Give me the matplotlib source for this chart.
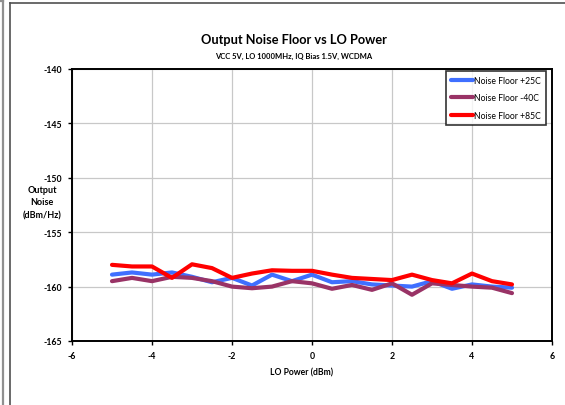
import numpy as np
from matplotlib import pyplot as plt
from matplotlib.lines import Line2D

# LO power sweep (dBm)
lo_power = [-5.0, -4.5, -4.0, -3.5, -3.0, -2.5, -2.0, -1.5, -1.0, -0.5,
            0.0, 0.5, 1.0, 1.5, 2.0, 2.5, 3.0, 3.5, 4.0, 4.5, 5.0]

# output noise floor (dBm/Hz)
nf_25c = [-158.9, -158.7, -158.9, -158.7, -159.1, -159.6, -159.2, -159.9, -158.9, -159.5,
          -158.9, -159.6, -159.5, -159.8, -159.9, -160.0, -159.5, -160.2, -159.8, -160.0, -160.1]
nf_m40c = [-159.5, -159.2, -159.5, -159.1, -159.2, -159.5, -160.0, -160.15, -160.0, -159.5,
           -159.7, -160.2, -159.85, -160.3, -159.7, -160.75, -159.7, -159.85, -160.0, -160.1, -160.6]
nf_85c = [-158.0, -158.15, -158.15, -159.2, -157.95, -158.3, -159.2, -158.8, -158.5, -158.55,
          -158.55, -158.9, -159.2, -159.3, -159.4, -158.9, -159.4, -159.7, -158.8, -159.5, -159.8]

series = [("Noise Floor +25C", nf_25c, '#3f6fff'),
          ("Noise Floor -40C", nf_m40c, '#993366'),
          ("Noise Floor +85C", nf_85c, '#ff0000')]

xticks = [-6, -4, -2, 0, 2, 4, 6]
yticks = [-165, -160, -155, -150, -145, -140]

FONT = 'Lato'

fig = plt.figure(figsize=(5.65, 4.06), dpi=100)
ax = fig.add_axes([72/565, 1-342/406, 480/565, 272/406])

for name, vals, col in series:
    ax.plot(lo_power, vals, color=col, lw=3.0, label=name,
            solid_joinstyle='round', solid_capstyle='round')

ax.set_xlim(-6, 6)
ax.set_ylim(-165, -140)
ax.set_xticks(xticks)
ax.set_yticks(yticks)
ax.set_xticklabels([str(t) for t in xticks])
ax.set_yticklabels([str(t) for t in yticks])
ax.grid(True, color='#c8c8c8', lw=0.9)
ax.set_axisbelow(True)
for s in ax.spines.values():
    s.set_linewidth(1.4)
    s.set_color('black')
ax.tick_params(direction='out', length=3, width=1, labelsize=6.3, pad=4)
for lab in ax.get_xticklabels() + ax.get_yticklabels():
    lab.set_fontweight('bold')
    lab.set_family(FONT)

ax.set_xlabel('LO Power (dBm)', fontsize=6.2, fontweight='bold', family=FONT, labelpad=9)
ax.xaxis.set_label_coords(302/565, 1-373/406, transform=fig.transFigure)
ax.xaxis.label.set_va('center')
fig.text(42/565, 1-203/406, 'Output\nNoise\n(dBm/Hz)', ha='center', va='center',
         fontsize=6.5, fontweight='bold', family=FONT, linespacing=1.5)

fig.text(294/565, 1-40/406, 'Output Noise Floor vs LO Power', ha='center', va='center',
         fontsize=9.2, fontweight='bold', family=FONT)
fig.text(294/565, 1-56/406, 'VCC 5V, LO 1000MHz, IQ Bias 1.5V, WCDMA', ha='center',
         va='center', fontsize=5.5, fontweight='bold', family=FONT)

leg = ax.legend(loc='upper right', bbox_to_anchor=(546/565, 1-72/406),
                bbox_transform=fig.transFigure, fancybox=False, frameon=True,
                prop={'family': FONT, 'size': 6.2}, handlelength=2.6,
                handletextpad=0.1, labelspacing=0.95, borderpad=0.6,
                borderaxespad=0)
leg.get_frame().set_edgecolor('black')
leg.get_frame().set_linewidth(1.2)

# chart area border lines on the left and top
fig.add_artist(Line2D([3/565, 3/565], [0, 1-2/406], transform=fig.transFigure,
                      color='#909090', lw=1.6))
fig.add_artist(Line2D([0, 3/565], [1-2/406, 1-2/406], transform=fig.transFigure,
                      color='#909090', lw=1.6))
fig.add_artist(Line2D([10/565, 10/565], [0, 1-4/406], transform=fig.transFigure,
                      color='#505050', lw=1.2))
fig.add_artist(Line2D([10/565, 1], [1-4/406, 1-4/406], transform=fig.transFigure,
                      color='#505050', lw=1.2))

plt.savefig('out.png', dpi=100)
